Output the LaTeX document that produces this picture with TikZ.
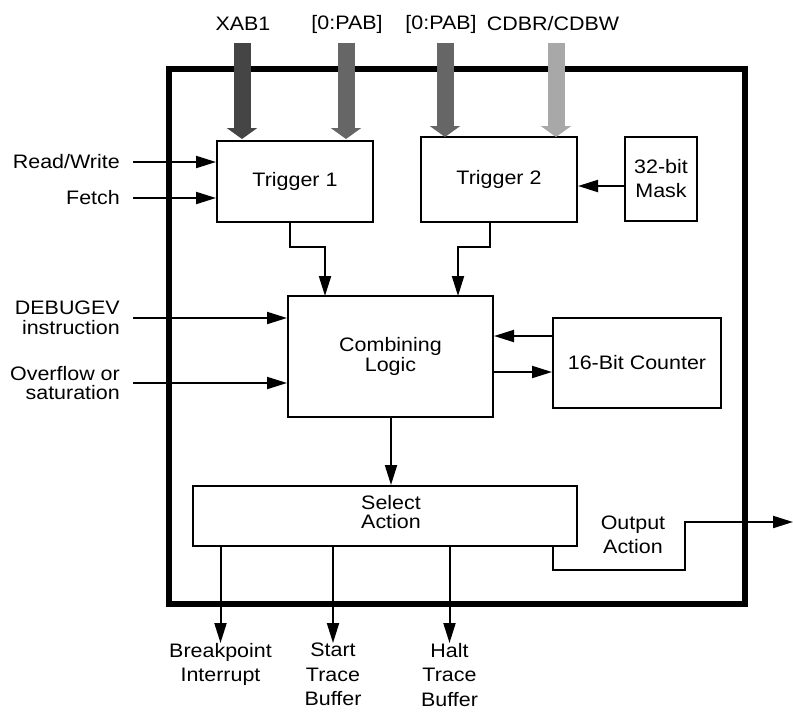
\documentclass[tikz,border=0pt]{standalone}
\usepackage{fontspec}
\setmainfont{Liberation Sans}[FakeStretch=1.1]
\usetikzlibrary{arrows.meta}
\definecolor{busA}{gray}{0.27}
\definecolor{busB}{gray}{0.40}
\definecolor{busC}{gray}{0.66}
\begin{document}
\begin{tikzpicture}[x=1pt,y=-1pt,
  every node/.style={font=\fontsize{19.5}{19.5}\selectfont, inner sep=0pt},
  blk/.style={draw, line width=2pt, rectangle, align=center},
  arr/.style={line width=2pt, -{Triangle[length=20pt,width=12pt]}},
  bus/.style={line width=17pt, -{Triangle[length=11pt,width=30pt]}},
  lbl/.style={align=right, anchor=east},
  blbl/.style={align=center, anchor=north, font=\fontsize{19.5}{24.5}\selectfont}
]
\useasboundingbox (0,0) rectangle (793,713);
% outer box
\draw[line width=6pt] (169,69) rectangle (745,604);

% blocks
\node[blk, minimum width=156pt, minimum height=81pt] (t1) at (295,181.5) {Trigger 1};
\node[blk, minimum width=156pt, minimum height=85pt] (t2) at (499,179.5) {Trigger 2};
\node[blk, minimum width=72pt, minimum height=84pt, font=\fontsize{19.5}{24}\selectfont] (mask) at (661,179) {32-bit\\Mask};
\node[blk, minimum width=205pt, minimum height=121pt] (comb) at (390.5,356.5) {Combining\\Logic};
\node[blk, minimum width=168pt, minimum height=90pt] (cnt) at (637,363) {16-Bit Counter};
\node[blk, minimum width=384pt, minimum height=60pt] (sel) at (385,516) {};
\node[align=center] (seltxt) at (391,512) {Select\\Action};

% top buses
\node (lx) at (243,24) {XAB1};
\node (lp1) at (347,24) {[0:PAB]};
\node (lp2) at (441,24) {[0:PAB]};
\node (lc) at (553,24) {CDBR/CDBW};
\coordinate (b1s) at (242,43); \coordinate (b1e) at (242,139);
\coordinate (b2s) at (346,43); \coordinate (b2e) at (346,139);
\coordinate (b3s) at (445,43); \coordinate (b3e) at (445,137);
\coordinate (b4s) at (556,43); \coordinate (b4e) at (556,137);
\draw[bus, busA] (b1s) -- (b1e);
\draw[bus, busB] (b2s) -- (b2e);
\draw[bus, busB] (b3s) -- (b3e);
\draw[bus, busC] (b4s) -- (b4e);

% left inputs
\node[lbl] (rw) at (120,162) {Read/Write};
\node[lbl] (fe) at (120,198) {Fetch};
\node[lbl] (dbg) at (120,318) {DEBUGEV\\instruction};
\node[lbl] (ovf) at (120,383) {Overflow or\\saturation};
\draw[arr] ([xshift=13pt]rw.east) -- (rw.east -| t1.west);
\draw[arr] ([xshift=13pt]fe.east) -- (fe.east -| t1.west);
\draw[arr] ([xshift=13pt]dbg.east) -- (dbg.east -| comb.west);
\draw[arr] ([xshift=13pt]ovf.east) -- (ovf.east -| comb.west);

% trigger -> combining
\coordinate (t1o) at (290,222);
\coordinate (t2o) at (490,222);
\draw[arr] (t1o) -- (290,247) -- (325,247) -- (325,296);
\draw[arr] (t2o) -- (490,247) -- (458,247) -- (458,296);

% mask -> trigger2
\draw[arr] (mask.west |- 0,186) -- (t2.east |- 0,186);

% counter <-> combining
\draw[arr] (cnt.west |- 0,336) -- (comb.east |- 0,336);
\draw[arr] (comb.east |- 0,372) -- (cnt.west |- 0,372);

% combining -> select
\draw[arr] (comb.south -| 391,0) -- (sel.north -| 391,0);

% outputs
\node[blbl] (bp) at (220.5,643) {Breakpoint\\Interrupt};
\node[blbl] (st) at (333,643) {Start\\Trace\\Buffer};
\node[blbl] (ht) at (449.5,643) {Halt\\Trace\\Buffer};
\draw[arr] (sel.south -| bp.north) -- (bp.north);
\draw[arr] (sel.south -| st.north) -- (st.north);
\draw[arr] (sel.south -| ht.north) -- (ht.north);

\node[align=center, font=\fontsize{19.5}{24}\selectfont] (oa) at (633,535) {Output\\Action};
\coordinate (oend) at (793,522);
\draw[arr] (sel.south -| 553,0) -- (553,570) -- (685,570) -- (685,522) -- (oend);
\end{tikzpicture}
\end{document}
